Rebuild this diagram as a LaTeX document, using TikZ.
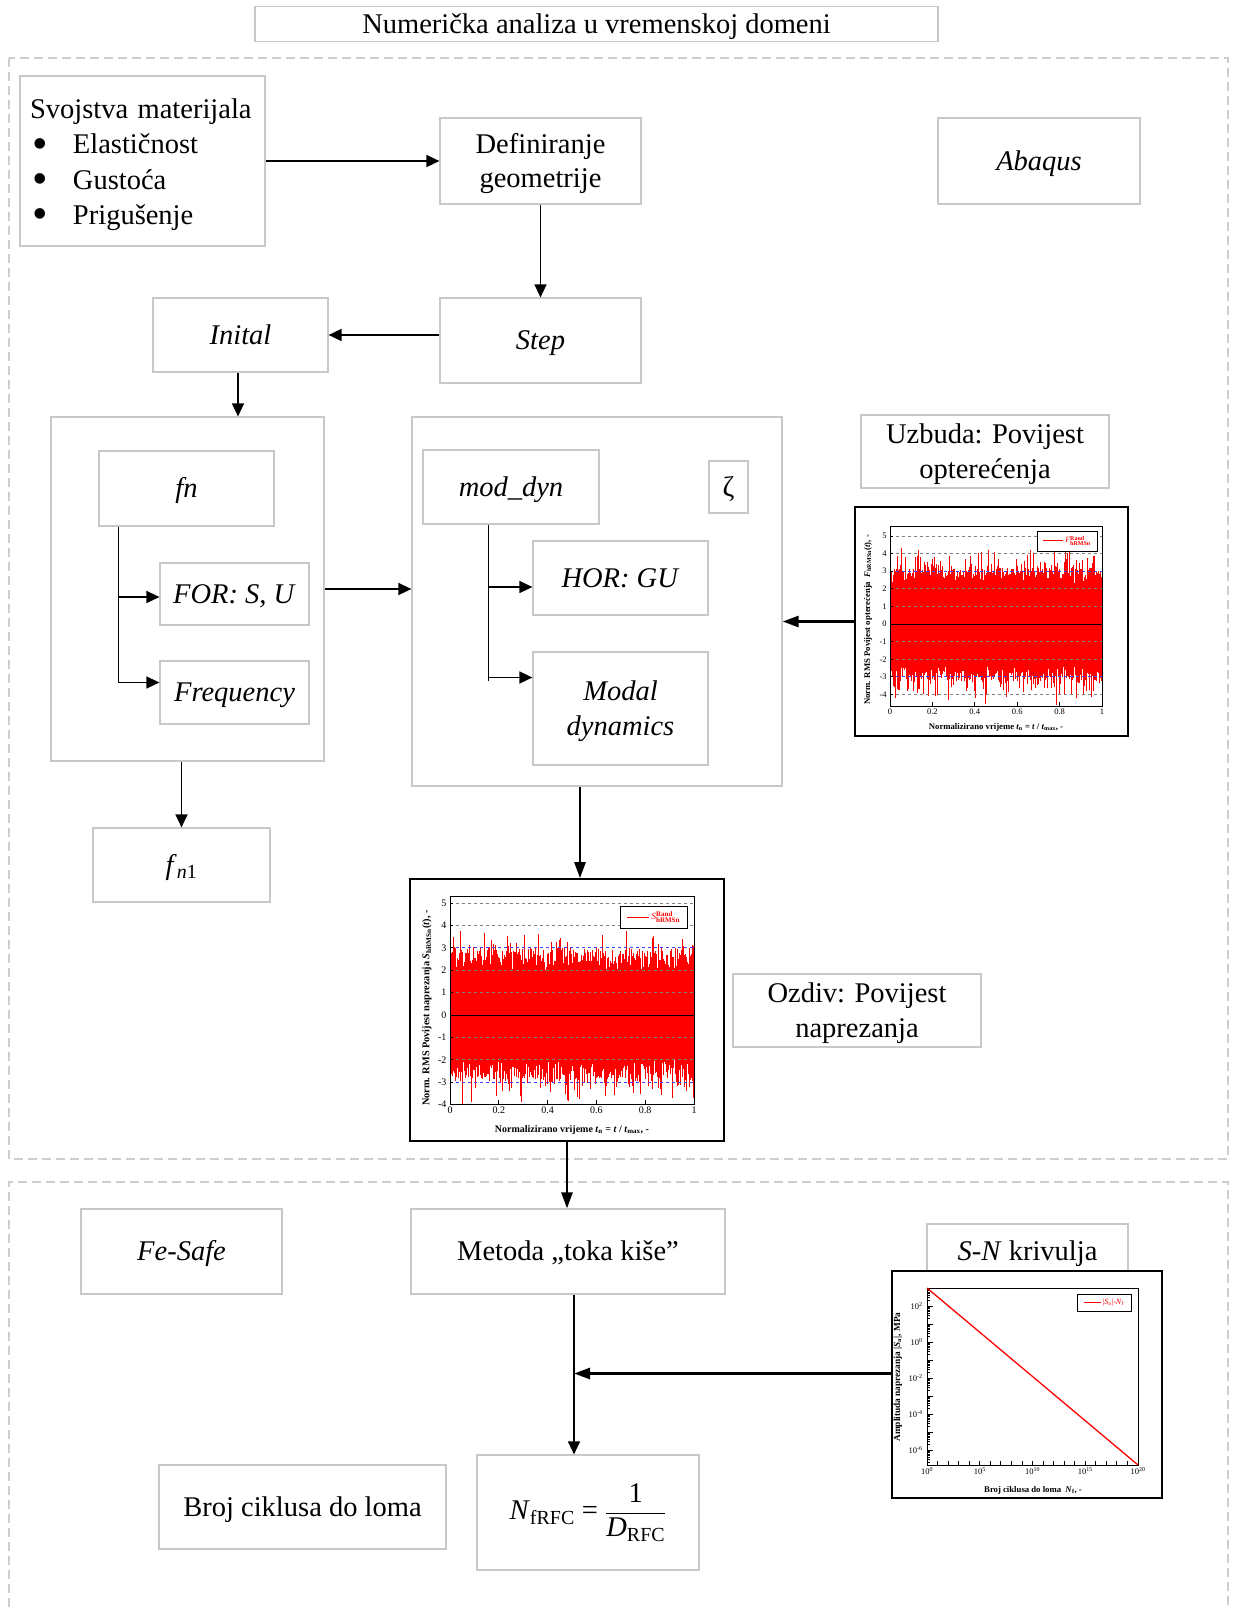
\documentclass[tikz,border=0pt]{standalone}
\usepackage{graphicx}
\usepackage{fontspec}
\setmainfont{Liberation Serif}
\usetikzlibrary{arrows.meta}

\definecolor{boxgray}{RGB}{200,200,200}
\definecolor{dashgray}{RGB}{205,205,205}
\newcommand{\bul}{\makebox[43pt][l]{\hspace{2pt}\raisebox{-0.15em}{\scalebox{1.55}{•}}}}
\newcommand{\fst}{\rule{0pt}{27pt}}
\newcommand{\lgnd}[3]{\textit{#1}$^{\mbox{\fontsize{#3}{#3}\selectfont\bfseries #2}}_{\mbox{\fontsize{#3}{#3}\selectfont\bfseries hRMSn}}$}

\tikzset{
  box/.style={draw=boxgray, line width=1.2pt, align=center, inner sep=0pt,
    font=\fontsize{28.5}{34.5}\selectfont,
    execute at begin node={\rule[-8.4pt]{0pt}{35.4pt}}},
  group/.style={draw=dashgray, line width=1.2pt, dash pattern=on 9pt off 5pt},
  arr/.style={line width=1.4pt, -{Triangle[length=13pt,width=12pt]}},
  bigarr/.style={line width=2.6pt, -{Triangle[length=16pt,width=11pt]}},
  plotframe/.style={draw=black, line width=1.6pt, fill=white, inner sep=0pt},
  sig/.style={red, line width=0.7pt},
  gridln/.style={gray, dashed, line width=0.9pt},
  blueln/.style={blue!75, dashed, line width=0.9pt},
  axisln/.style={black, line width=0.9pt},
  ticklbl/.style={inner sep=1pt, font=\fontsize{8.5}{9}\selectfont},
  axislbl/.style={inner sep=0pt, font=\bfseries\fontsize{8.7}{9}\selectfont},
  legbox/.style={draw=black, line width=0.9pt, fill=white, inner sep=1pt}
}

\begin{document}
\begin{tikzpicture}[x=1pt, y=-1pt]
\useasboundingbox (0,0) rectangle (1234,1607);

% dashed groups
\draw[group] (9,58) rectangle (1228,1159);
\draw[group] (9,1607) -- (9,1182) -- (1228,1182) -- (1228,1607);

\node[box, minimum width=683pt, minimum height=34pt] (title) at (596.5,24) {Numerička analiza u vremenskoj domeni};

% Abaqus part
\node[box, minimum width=245pt, minimum height=170pt, text width=225pt, align=left,
  font=\fontsize{28.5}{35.2}\selectfont] (props) at (142.5,161)
  {Svojstva materijala\\ \bul Elastičnost\\ \bul Gustoća\\ \bul Prigušenje};
\node[box, minimum width=201pt, minimum height=86pt] (geom) at (540.5,161) {\fst Definiranje\\geometrije};
\node[box, minimum width=202pt, minimum height=86pt] (abaqus) at (1039,161) {\textit{Abaqus}};
\node[box, minimum width=201pt, minimum height=85pt] (step) at (540.5,340.5) {\textit{Step}};
\node[box, minimum width=175pt, minimum height=74pt] (inital) at (240.5,335) {\textit{Inital}};

\node[box, minimum width=273pt, minimum height=344pt] (leftgrp) at (187.5,589) {};
\node[box, minimum width=175pt, minimum height=75pt] (fn) at (186.5,488.5) {\textit{fn}};
\node[box, minimum width=149pt, minimum height=62pt] (forsu) at (234.5,594) {\textit{FOR: S, U}};
\node[box, minimum width=149pt, minimum height=63pt] (freq) at (234.5,692.5) {\textit{Frequency}};

\node[box, minimum width=370pt, minimum height=369pt] (midgrp) at (597,601.5) {};
\node[box, minimum width=176pt, minimum height=74pt] (moddyn) at (511,487) {\textit{mod\_dyn}};
\node[box, minimum width=39pt, minimum height=52pt] (zeta) at (728.5,487) {ζ};
\node[box, minimum width=175pt, minimum height=74pt] (horgu) at (620.5,578) {\textit{HOR: GU}};
\node[box, minimum width=175pt, minimum height=113pt] (modal) at (620.5,708.5) {\fst\textit{Modal}\\\textit{dynamics}};

\node[box, minimum width=248pt, minimum height=73pt] (uzbuda) at (985,451.5) {\fst Uzbuda: Povijest\\opterećenja};
\node[box, minimum width=177pt, minimum height=74pt] (fn1) at (181.5,865) {\textit{f}\textsubscript{\textit{n}1}};
\node[box, minimum width=248pt, minimum height=73pt] (ozdiv) at (857,1010.5) {\fst Ozdiv: Povijest\\naprezanja};

% Fe-Safe part
\node[box, minimum width=314pt, minimum height=85pt] (metoda) at (568,1251.5) {Metoda „toka kiše”};
\node[box, minimum width=201pt, minimum height=85pt] (fesafe) at (181.5,1251.5) {\textit{Fe-Safe}};
\node[box, minimum width=201pt, minimum height=54pt] (snbox) at (1027.5,1251) {\textit{S-N} krivulja};
\node[box, minimum width=222pt, minimum height=115pt] (nrfc) at (588,1512.5)
  {$\displaystyle\mbox{\textit{N}\textsubscript{fRFC} = }\frac{\mbox{1}}{\mbox{\textit{D}\textsubscript{RFC}}}$};
\node[box, minimum width=287pt, minimum height=84pt] (broj) at (302.5,1507) {Broj ciklusa do loma};

% plot frames
\node[plotframe, minimum width=273pt, minimum height=229pt] (plotF) at (991.5,621.5) {};
\node[plotframe, minimum width=314pt, minimum height=262pt] (plotS) at (567,1010) {};
\node[plotframe, minimum width=270pt, minimum height=227pt] (plotN) at (1027,1384.5) {};

% connectors
\draw[arr] (props.east) -- (geom.west);
\draw[arr] (geom.south) -- (step.north);
\draw[arr] (step.west |- inital.east) -- (inital.east);
\draw[arr] ([xshift=-2.5pt]inital.south) -- ([xshift=-2.5pt]inital.south |- leftgrp.north);
\coordinate (fnbr) at ([xshift=20pt]fn.south west);
\draw[line width=1.4pt] (fnbr) -- ([yshift=-156pt]fnbr);
\draw[arr] ([yshift=-3pt]fnbr |- forsu.west) -- ([yshift=-3pt]forsu.west);
\draw[arr] ([yshift=10pt]fnbr |- freq.west) -- ([yshift=10pt]freq.west);
\draw[arr] (leftgrp.east) -- (leftgrp.east -| midgrp.west);
\coordinate (mdbr) at ([xshift=66pt]moddyn.south west);
\draw[line width=1.4pt] (mdbr) -- ([yshift=-156pt]mdbr);
\draw[arr] ([yshift=-9pt]mdbr |- horgu.west) -- ([yshift=-9pt]horgu.west);
\draw[arr] ([yshift=31pt]mdbr |- modal.west) -- ([yshift=31pt]modal.west);
\draw[bigarr] (plotF.west) -- (plotF.west -| midgrp.east);
\draw[arr] (leftgrp.south -| fn1.north) -- (fn1.north);
\draw[bigarr] ([xshift=-17pt]midgrp.south) -- ([xshift=-17pt]midgrp.south |- plotS.north);
\draw[bigarr] (plotS.south) -- (plotS.south |- metoda.north);
\coordinate (mline) at ([xshift=6pt]metoda.south);
\draw[arr] (mline) -- (mline |- nrfc.north);
\draw[bigarr] ([yshift=11pt]plotN.west) -- ([yshift=11pt]mline |- plotN.west);

\pgfmathsetseed{7}
% excitation history
\begin{scope}[shift={(890,624)}, x=212pt, y=17.6pt]
  \fill[red] (0,-2.3) rectangle (1,2.3);
  \foreach \i in {0,...,399}{
    \pgfmathsetmacro\hi{2.3+0.9*rnd+1.3*pow(rnd,6)}
    \pgfmathsetmacro\lo{-2.3-0.9*rnd-1.5*pow(rnd,6)}
    \draw[sig] (\i/399,\lo) -- (\i/399,\hi);
  }
  \foreach \v in {-4,-2,-1,1,2,4,5} \draw[gridln] (0,\v) -- (1,\v);
  \foreach \v in {-3,3} \draw[blueln] (0,\v) -- (1,\v);
  \draw[axisln] (0,0) -- (1,0);
  \draw[axisln] (0,-4.66) rectangle (1,5.57);
  \foreach \t [count=\k] in {0,0.2,0.4,0.6,0.8,1}{
    \draw[axisln] (\t,-4.66) -- ++(0,0.25);
    \node[ticklbl, anchor=north] (fx\k) at (\t,-4.75) {\t};
  }
  \foreach \v [count=\k] in {-4,...,5}{
    \draw[axisln] (0,\v) -- ++(0.015,0);
    \node[ticklbl, anchor=east] (fy\k) at (-0.01,\v) {\v};
  }
\end{scope}
\node[legbox, minimum width=60pt, minimum height=20pt] (legF) at (1067,541)
  {\fontsize{8}{8}\selectfont\color{red}\rule[0.5ex]{20pt}{0.8pt}\ \lgnd{F}{Rand}{6}};
\node[axislbl, rotate=90] (ylabF) at (868,620) {Norm. RMS Povijest opterećenja \ \textit{F}\textsubscript{hRMSn}(\textit{t}), -};
\node[axislbl] (xlabF) at (996,727) {Normalizirano vrijeme \textit{t}\textsubscript{n} = \textit{t} / \textit{t}\textsubscript{max}, -};

% stress history
\begin{scope}[shift={(450,1015)}, x=244pt, y=22.4pt]
  \fill[red] (0,-2.0) rectangle (1,2.0);
  \foreach \i in {0,...,399}{
    \pgfmathsetmacro\hi{2.0+0.9*rnd+1.0*pow(rnd,6)}
    \pgfmathsetmacro\lo{max(-4,-2.0-0.9*rnd-1.2*pow(rnd,6))}
    \draw[sig] (\i/399,\lo) -- (\i/399,\hi);
  }
  \foreach \v in {-4,-2,-1,1,2,4,5} \draw[gridln] (0,\v) -- (1,\v);
  \foreach \v in {-3,3} \draw[blueln] (0,\v) -- (1,\v);
  \draw[axisln] (0,0) -- (1,0);
  \draw[axisln] (0,-4) rectangle (1,5.3);
  \foreach \t [count=\k] in {0,0.2,0.4,0.6,0.8,1}{
    \draw[axisln] (\t,-4) -- ++(0,0.2);
    \node[ticklbl, anchor=north, font=\fontsize{10}{11}\selectfont] (sx\k) at (\t,-4.05) {\t};
  }
  \foreach \v [count=\k] in {-4,...,5}{
    \draw[axisln] (0,\v) -- ++(0.013,0);
    \node[ticklbl, anchor=east, font=\fontsize{10}{11}\selectfont] (sy\k) at (-0.01,\v) {\v};
  }
\end{scope}
\node[legbox, minimum width=67pt, minimum height=22pt] (legS) at (653.5,917)
  {\fontsize{9.5}{9.5}\selectfont\color{red}\rule[0.5ex]{22pt}{0.8pt}\ \lgnd{S}{Rand}{7}};
\node[axislbl, rotate=90, font=\bfseries\fontsize{10.3}{11}\selectfont] (ylabS) at (427,1008) {Norm. RMS Povijest naprezanja \textit{S}\textsubscript{hRMSn}(\textit{t}), -};
\node[axislbl, font=\bfseries\fontsize{10}{11}\selectfont] (xlabS) at (572,1130) {Normalizirano vrijeme \textit{t}\textsubscript{n} = \textit{t} / \textit{t}\textsubscript{max}, -};

% S-N curve
\begin{scope}[shift={(927,1342)}, x=10.55pt, y=18pt]
  \begin{scope}
    \clip (0,-6.83) rectangle (20,3);
    \foreach \d in {-7,...,2}{
      \foreach \m in {2,...,9}{
        \pgfmathsetmacro\yy{\d+log10(\m)}
        \draw[axisln] (0,\yy) -- ++(0.3,0);
      }
      \draw[axisln] (0,\d) -- ++(0.6,0);
    }
    \foreach \e in {0,...,20} \draw[axisln] (\e,-6.83) -- ++(0,0.2);
  \end{scope}
  \draw[axisln] (0,-6.83) rectangle (20,3);
  \draw[red, line width=1.3pt] (0,3) -- (20,-6.83);
  \foreach \e [count=\k] in {0,5,10,15,20}
    \node[ticklbl, anchor=north] (nx\k) at (\e,-6.9) {10\textsuperscript{\e}};
  \foreach \e [count=\k] in {2,0,-2,-4,-6}
    \node[ticklbl, anchor=east] (ny\k) at (-0.3,\e) {10\textsuperscript{\e}};
\end{scope}
\node[legbox, minimum width=54pt, minimum height=17pt] (legN) at (1104,1302.5)
  {\fontsize{8}{8}\selectfont\color{red}\rule[0.5ex]{17pt}{0.8pt}\ |\textit{S}\textsubscript{a}|-\textit{N}\textsubscript{f}};
\node[axislbl, rotate=90, font=\bfseries\fontsize{9.3}{10}\selectfont] (ylabN) at (898,1377) {Amplituda naprezanja |\textit{S}\textsubscript{a}|, MPa};
\node[axislbl] (xlabN) at (1033,1490) {Broj ciklusa do loma \ \textit{N}\textsubscript{f}, -};

\end{tikzpicture}
\end{document}
